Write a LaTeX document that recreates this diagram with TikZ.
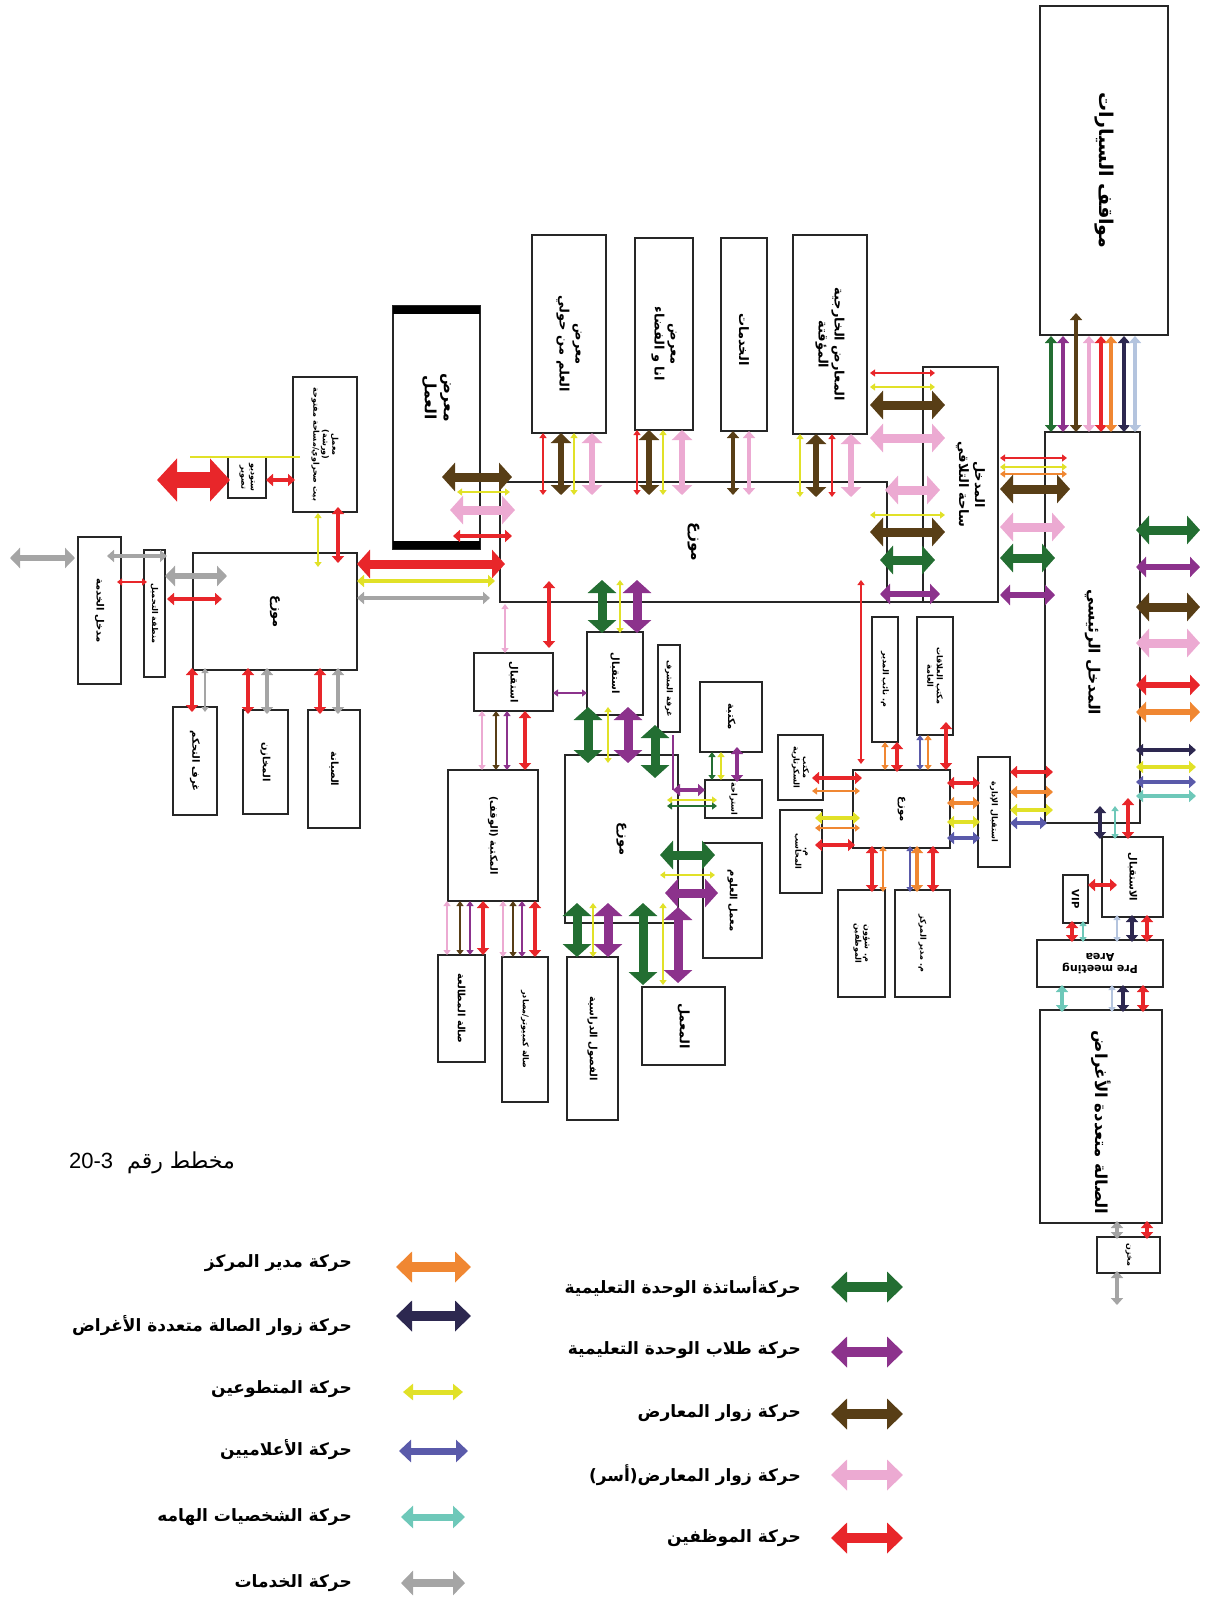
\documentclass[tikz,border=0pt]{standalone}
\usepackage{fontspec}
\usetikzlibrary{arrows.meta}
\setmainfont{DejaVu Sans}
\newfontfamily\arf[Script=Arabic]{DejaVu Sans}
\newfontfamily\latf{Liberation Sans}
\TeXXeTstate=1
\newcommand\AR[1]{\beginR #1\endR}
\definecolor{cGreen}{RGB}{35,110,50}
\definecolor{cPurple}{RGB}{140,50,140}
\definecolor{cBrown}{RGB}{88,62,22}
\definecolor{cPink}{RGB}{236,170,210}
\definecolor{cRed}{RGB}{232,38,42}
\definecolor{cOrange}{RGB}{240,135,50}
\definecolor{cNavy}{RGB}{45,40,80}
\definecolor{cYellow}{RGB}{225,225,40}
\definecolor{cBlue}{RGB}{90,90,170}
\definecolor{cTeal}{RGB}{110,200,185}
\definecolor{cGrey}{RGB}{165,165,165}
\definecolor{cLBlue}{RGB}{180,196,222}
\newcommand\bx[5]{\node[bx, minimum width={(#4)-(#2)}, minimum height={(#5)-(#3)}] (#1) at (#2,#3) {};}
\newcommand\va[4]{\draw[#1] (#2,#3) -- (#2,#4);}
\newcommand\ha[4]{\draw[#1] (#3,#2) -- (#4,#2);}
\begin{document}
\begin{tikzpicture}[x=1pt, y=-1pt,
  bx/.style={draw=black!85, line width=2.6pt, inner sep=0, outer sep=0, anchor=north west},
  lb/.style={rotate=-90, align=center, inner sep=0},
  fL/.style={font=\arf\bfseries\fontsize{19}{22}\selectfont},
  fH/.style={font=\arf\bfseries\fontsize{16.5}{19}\selectfont},
  fM/.style={font=\arf\bfseries\fontsize{15.5}{19}\selectfont},
  fS/.style={font=\arf\bfseries\fontsize{13}{16}\selectfont},
  fT/.style={font=\arf\bfseries\fontsize{10}{12}\selectfont},
  fU/.style={font=\arf\bfseries\fontsize{8}{9.5}\selectfont},
  aH/.style={line width=16pt, arrows={Triangle[width=42pt,length=20pt]-Triangle[width=42pt,length=20pt]}},
  aA/.style={line width=9pt, arrows={Triangle[width=28pt,length=13pt]-Triangle[width=28pt,length=13pt]}},
  aB/.style={line width=6pt, arrows={Triangle[width=20pt,length=10pt]-Triangle[width=20pt,length=10pt]}},
  aC/.style={line width=3.5pt, arrows={Triangle[width=12pt,length=7pt]-Triangle[width=12pt,length=7pt]}},
  aD/.style={line width=1.8pt, arrows={Triangle[width=7pt,length=5pt]-Triangle[width=7pt,length=5pt]}},
  aL/.style={line width=10pt, arrows={Triangle[width=30pt,length=16pt]-Triangle[width=30pt,length=16pt]}},
  lg/.style={font=\arf\bfseries\fontsize{17}{20}\selectfont, anchor=east, inner sep=0}]
\useasboundingbox (0,0) rectangle (1213,1600);

% ---------- boxes ----------
\bx{carpark}{1040}{6}{1168}{335}
\bx{mainent}{1045}{432}{1140}{823}
\bx{bigdist}{500}{482}{887}{602}
\bx{meet}{923}{367}{998}{602}
\draw[line width=2.6pt, black!85] (887,602) -- (923,602);
\bx{workex}{393}{306}{480}{549}
\draw[line width=8pt] (393,310) -- (480,310);
\draw[line width=8pt] (393,545) -- (480,545);
\bx{boxa}{532}{235}{606}{433}
\bx{boxb}{635}{238}{693}{430}
\bx{boxc}{721}{238}{767}{431}
\bx{boxd}{793}{235}{867}{434}
\bx{workshop}{293}{377}{357}{512}
\bx{studio}{228}{457}{266}{498}
\bx{leftdist}{193}{553}{357}{670}
\bx{service}{78}{537}{121}{684}
\bx{loading}{144}{550}{165}{677}
\bx{ctrl}{173}{707}{217}{815}
\bx{store}{243}{710}{288}{814}
\bx{maint}{308}{710}{360}{828}
\bx{librec}{474}{653}{553}{711}
\bx{library}{448}{770}{538}{901}
\bx{reading}{438}{955}{485}{1062}
\bx{computer}{502}{957}{548}{1102}
\bx{edurec}{587}{632}{643}{715}
\bx{superv}{658}{645}{680}{732}
\bx{smalllib}{700}{682}{762}{752}
\bx{rest}{705}{780}{762}{818}
\bx{labb}{703}{843}{762}{958}
\bx{classes}{567}{957}{618}{1120}
\bx{labc}{642}{987}{725}{1065}
\bx{edudist}{565}{755}{678}{923}
\bx{admdist}{853}{770}{950}{848}
\bx{secr}{778}{735}{823}{800}
\bx{acct}{780}{810}{822}{893}
\bx{deputy}{872}{617}{898}{742}
\bx{pr}{917}{617}{953}{735}
\bx{hr}{838}{890}{885}{997}
\bx{director}{895}{890}{950}{997}
\bx{admrec}{978}{757}{1010}{867}
\bx{viprec}{1102}{837}{1163}{917}
\bx{vip}{1063}{875}{1088}{923}
\bx{premeet}{1037}{940}{1163}{987}
\bx{hall}{1040}{1010}{1162}{1223}
\bx{smallst}{1097}{1237}{1160}{1273}

% ---------- labels ----------
\node[lb,fL] (carpark-t) at (carpark.center) {\AR{مواقف السيارات}};
\node[lb,fM] (mainent-t) at ([yshift=-25pt]mainent.center) {\AR{المدخل الرئيسي}};
\node[lb,fS] (meet-t) at ([xshift=10pt]meet.center) {\AR{المدخل}\\\AR{ساحة التلاقي}};
\node[lb,fM] (bigdist-t) at (bigdist.center) {\AR{موزع}};
\node[lb,fM] (workex-t) at ([yshift=30pt]workex.center) {\AR{معرض}\\\AR{العمل}};
\node[lb,fS] (boxa-t) at ([yshift=-10pt]boxa.center) {\AR{معرض}\\\AR{العلم من حولي}};
\node[lb,fS] (boxb-t) at ([yshift=-10pt]boxb.center) {\AR{معرض}\\\AR{انا و الفضاء}};
\node[lb,fS] (boxc-t) at ([yshift=-5pt]boxc.center) {\AR{الخدمات}};
\node[lb,fS] (boxd-t) at ([yshift=-10pt]boxd.center) {\AR{المعارض الخارجية}\\\AR{المؤقتة}};
\node[lb,fU] (workshop-t) at (workshop.center) {\AR{معمل}\\\AR{(ورشة)}\\\AR{بيت صحراوي/مساحة مفتوحة}};
\node[lb,fU] (studio-t) at (studio.center) {\AR{ستوديو}\\\AR{تصوير}};
\node[lb,fS] (leftdist-t) at (leftdist.center) {\AR{موزع}};
\node[lb,fT] (service-t) at (service.center) {\AR{مدخل الخدمة}};
\node[lb,fU] (loading-t) at (loading.center) {\AR{منطقة التحميل}};
\node[lb,fT] (ctrl-t) at (ctrl.center) {\AR{غرف التحكم}};
\node[lb,fT] (store-t) at (store.center) {\AR{المخازن}};
\node[lb,fT] (maint-t) at (maint.center) {\AR{الصيانة}};
\node[lb,fT] (librec-t) at (librec.center) {\AR{استقبال}};
\node[lb,fT] (library-t) at (library.center) {\AR{المكتبة (الوقف)}};
\node[lb,fT] (reading-t) at (reading.center) {\AR{صالة المطالعة}};
\node[lb,fU] (computer-t) at (computer.center) {\AR{صالة كمبيوتر/مصادر}};
\node[lb,fT] (edurec-t) at (edurec.center) {\AR{استقبال}};
\node[lb,fU] (superv-t) at (superv.center) {\AR{غرفة المشرف}};
\node[lb,fT] (smalllib-t) at (smalllib.center) {\AR{مكتبة}};
\node[lb,fU] (rest-t) at (rest.center) {\AR{استراحة}};
\node[lb,fT] (labb-t) at (labb.center) {\AR{معمل العلوم}};
\node[lb,fT] (classes-t) at (classes.center) {\AR{الفصول الدراسية}};
\node[lb,fS] (labc-t) at (labc.center) {\AR{المعمل}};
\node[lb,fS] (edudist-t) at (edudist.center) {\AR{موزع}};
\node[lb,fT] (admdist-t) at (admdist.center) {\AR{موزع}};
\node[lb,fU] (secr-t) at (secr.center) {\AR{مكتب}\\\AR{السكرتارية}};
\node[lb,fU] (acct-t) at (acct.center) {\AR{م.}\\\AR{المحاسب}};
\node[lb,fU] (deputy-t) at (deputy.center) {\AR{م. نائب المدير}};
\node[lb,fU] (pr-t) at (pr.center) {\AR{مكتب العلاقات}\\\AR{العامة}};
\node[lb,fU] (hr-t) at (hr.center) {\AR{م. شؤون}\\\AR{الموظفين}};
\node[lb,fU] (director-t) at (director.center) {\AR{م. مدير المركز}};
\node[lb,fU] (admrec-t) at (admrec.center) {\AR{استقبال الإدارة}};
\node[lb,fT] (viprec-t) at (viprec.center) {\AR{الاستقبال}};
\node[rotate=-90, inner sep=0, font=\bfseries\fontsize{10}{11}\selectfont] (vip-t) at (vip.center) {VIP};
\node[rotate=180, align=center, inner sep=0, font=\bfseries\fontsize{11}{12}\selectfont] (premeet-t) at (premeet.center) {Pre meeting\\Area};
\node[lb,fH] (hall-t) at ([yshift=-6pt]hall.center) {\AR{الصالة متعددة الأغراض}};
\node[lb,fU] (smallst-t) at (smallst.center) {\AR{مخزن}};

% ---------- arrows ----------
% car park <-> main entrance
\va{cGreen,aC}{1051}{336}{432}
\va{cPurple,aC}{1063}{336}{432}
\va{cBrown,aC}{1076}{313}{432}
\va{cPink,aC}{1089}{336}{432}
\va{cRed,aC}{1101}{336}{432}
\va{cOrange,aC}{1111}{336}{432}
\va{cNavy,aC}{1124}{336}{432}
\va{cLBlue,aC}{1135}{336}{432}
% main entrance outside
\ha{cGreen,aA}{530}{1136}{1200}
\ha{cPurple,aB}{567}{1136}{1200}
\ha{cBrown,aA}{607}{1136}{1200}
\ha{cPink,aA}{643}{1136}{1200}
\ha{cRed,aB}{685}{1136}{1200}
\ha{cOrange,aB}{712}{1136}{1200}
\ha{cNavy,aC}{750}{1136}{1196}
\ha{cYellow,aC}{767}{1136}{1196}
\ha{cBlue,aC}{782}{1136}{1196}
\ha{cTeal,aC}{796}{1136}{1196}
% main entrance <-> meeting
\ha{cRed,aD}{458}{1000}{1067}
\ha{cYellow,aD}{467}{1000}{1067}
\ha{cOrange,aD}{474}{1000}{1067}
\ha{cBrown,aA}{489}{1000}{1070}
\ha{cPink,aA}{527}{1000}{1065}
\ha{cGreen,aA}{558}{1000}{1055}
\ha{cPurple,aB}{595}{1000}{1055}
% meeting <-> exhibitions / distributor
\ha{cRed,aD}{373}{870}{935}
\ha{cYellow,aD}{387}{870}{935}
\ha{cBrown,aA}{405}{870}{945}
\ha{cPink,aA}{438}{870}{945}
\ha{cPink,aA}{490}{885}{940}
\ha{cYellow,aD}{515}{870}{945}
\ha{cBrown,aA}{532}{870}{945}
\ha{cGreen,aA}{560}{880}{935}
\ha{cPurple,aB}{594}{880}{940}
% exhibitions <-> distributor
\va{cRed,aD}{543}{433}{495}
\va{cBrown,aB}{561}{433}{495}
\va{cYellow,aD}{574}{433}{495}
\va{cPink,aB}{592}{433}{495}
\va{cRed,aD}{637}{430}{495}
\va{cBrown,aB}{649}{430}{495}
\va{cYellow,aD}{663}{430}{495}
\va{cPink,aB}{682}{430}{495}
\va{cBrown,aC}{733}{431}{495}
\va{cPink,aC}{749}{431}{495}
\va{cYellow,aD}{800}{434}{497}
\va{cBrown,aB}{816}{434}{497}
\va{cRed,aD}{832}{434}{497}
\va{cPink,aB}{851}{434}{497}
% work exhibition <-> distributor
\ha{cBrown,aA}{477}{442}{512}
\ha{cYellow,aD}{492}{457}{510}
\ha{cPink,aA}{510}{450}{515}
\ha{cRed,aC}{536}{453}{512}
% left distributor <-> big distributor
\ha{cRed,aA}{564}{357}{505}
\ha{cYellow,aC}{581}{357}{495}
\ha{cGrey,aC}{598}{357}{490}
% workshop / studio
\va{cYellow,aD}{318}{513}{567}
\va{cRed,aC}{338}{507}{563}
\ha{cRed,aC}{480}{266}{295}
\draw[cYellow, line width=1.8pt] (190,457) -- (300,457);
\ha{cRed,aH}{480}{157}{230}
% service side
\ha{cGrey,aB}{558}{10}{75}
\ha{cGrey,aC}{556}{107}{167}
\ha{cGrey,aB}{576}{165}{227}
\ha{cRed,aD}{582}{117}{147}
\ha{cRed,aC}{599}{167}{222}
% left distributor <-> bottom boxes
\va{cRed,aC}{192}{668}{712}
\va{cGrey,aD}{205}{668}{712}
\va{cRed,aC}{248}{668}{714}
\va{cGrey,aC}{267}{668}{714}
\va{cRed,aC}{320}{668}{714}
\va{cGrey,aC}{338}{668}{714}
% library wing
\va{cPink,aD}{505}{604}{653}
\va{cRed,aC}{549}{581}{648}
\ha{cPurple,aD}{693}{553}{587}
\va{cPink,aD}{482}{711}{770}
\va{cBrown,aD}{496}{711}{770}
\va{cPurple,aD}{507}{711}{770}
\va{cRed,aC}{525}{711}{770}
\va{cPink,aD}{447}{901}{955}
\va{cBrown,aD}{460}{901}{955}
\va{cPurple,aD}{470}{901}{955}
\va{cRed,aC}{483}{901}{955}
\va{cPink,aD}{503}{901}{957}
\va{cBrown,aD}{513}{901}{957}
\va{cPurple,aD}{522}{901}{957}
\va{cRed,aC}{535}{901}{957}
% education wing
\va{cGreen,aA}{602}{580}{633}
\va{cYellow,aD}{620}{580}{633}
\va{cPurple,aA}{637}{580}{633}
\va{cGreen,aA}{588}{707}{763}
\va{cYellow,aD}{608}{707}{763}
\va{cPurple,aA}{628}{707}{763}
\va{cGreen,aA}{655}{725}{778}
\draw[cPurple, line width=1.8pt] (673,735) -- (673,790);
\ha{cPurple,aC}{790}{673}{705}
\va{cPurple,aC}{737}{747}{782}
\va{cGreen,aD}{712}{752}{780}
\va{cYellow,aD}{721}{752}{780}
\ha{cYellow,aD}{800}{667}{717}
\ha{cGreen,aD}{806}{667}{717}
\ha{cGreen,aA}{855}{660}{715}
\ha{cYellow,aD}{875}{660}{715}
\ha{cPurple,aA}{893}{665}{718}
\va{cGreen,aA}{577}{903}{957}
\va{cYellow,aD}{593}{903}{957}
\va{cPurple,aA}{608}{903}{957}
\va{cGreen,aA}{643}{903}{985}
\va{cYellow,aD}{663}{903}{985}
\va{cPurple,aA}{678}{907}{983}
% administration
\va{cRed,aD}{861}{580}{764}
\va{cOrange,aD}{885}{742}{770}
\va{cRed,aC}{897}{742}{772}
\va{cBlue,aD}{920}{735}{770}
\va{cOrange,aD}{928}{735}{770}
\va{cRed,aC}{946}{722}{770}
\ha{cRed,aC}{778}{812}{862}
\ha{cOrange,aD}{791}{812}{860}
\ha{cYellow,aC}{818}{815}{860}
\ha{cOrange,aD}{828}{815}{860}
\ha{cRed,aC}{845}{815}{855}
\va{cRed,aC}{872}{846}{892}
\va{cOrange,aD}{883}{846}{892}
\va{cBlue,aD}{910}{846}{892}
\va{cOrange,aC}{917}{846}{892}
\va{cRed,aC}{933}{846}{892}
\ha{cRed,aC}{783}{947}{980}
\ha{cOrange,aC}{803}{947}{980}
\ha{cYellow,aC}{822}{947}{980}
\ha{cBlue,aC}{838}{947}{980}
\ha{cRed,aC}{772}{1010}{1053}
\ha{cOrange,aC}{792}{1010}{1053}
\ha{cYellow,aC}{810}{1010}{1053}
\ha{cBlue,aC}{823}{1010}{1047}
% VIP / hall column
\va{cNavy,aC}{1100}{806}{839}
\va{cTeal,aD}{1115}{806}{839}
\va{cRed,aC}{1128}{798}{839}
\ha{cRed,aC}{885}{1088}{1117}
\va{cRed,aC}{1072}{921}{942}
\va{cTeal,aD}{1083}{921}{942}
\va{cLBlue,aD}{1117}{915}{942}
\va{cNavy,aC}{1132}{915}{942}
\va{cRed,aC}{1147}{915}{942}
\va{cTeal,aC}{1062}{985}{1012}
\va{cLBlue,aD}{1112}{985}{1012}
\va{cNavy,aC}{1123}{985}{1012}
\va{cRed,aC}{1143}{985}{1012}
\va{cGrey,aC}{1117}{1221}{1239}
\va{cRed,aC}{1147}{1221}{1239}
\va{cGrey,aC}{1117}{1271}{1305}

% ---------- caption ----------
\node[anchor=east, inner sep=0, font=\arf\fontsize{22}{25}\selectfont] (caption) at (235,1163) {\beginR مخطط رقم\ \ \beginL{\latf 20-3}\endL\endR};

% ---------- legend ----------
\ha{cGreen,aL}{1287}{831}{903}
\ha{cPurple,aL}{1352}{831}{903}
\ha{cBrown,aL}{1414}{831}{903}
\ha{cPink,aL}{1475}{831}{903}
\ha{cRed,aL}{1538}{831}{903}
\node[lg] (lg1) at (801,1287) {\AR{حركةأساتذة الوحدة التعليمية}};
\node[lg] (lg2) at (801,1350) {\AR{حركة طلاب الوحدة التعليمية}};
\node[lg] (lg3) at (801,1413) {\AR{حركة زوار المعارض}};
\node[lg] (lg4) at (801,1475) {\AR{حركة زوار المعارض(أسر)}};
\node[lg] (lg5) at (801,1538) {\AR{حركة الموظفين}};
\ha{cOrange,aL}{1267}{396}{471}
\ha{cNavy,aL}{1316}{396}{471}
\draw[cYellow, line width=5pt, arrows={Triangle[width=16pt,length=10pt]-Triangle[width=16pt,length=10pt]}] (403,1392) -- (463,1392);
\draw[cBlue, line width=7pt, arrows={Triangle[width=22pt,length=12pt]-Triangle[width=22pt,length=12pt]}] (399,1451) -- (468,1451);
\draw[cTeal, line width=7pt, arrows={Triangle[width=22pt,length=12pt]-Triangle[width=22pt,length=12pt]}] (401,1517) -- (465,1517);
\draw[cGrey, line width=8pt, arrows={Triangle[width=24pt,length=12pt]-Triangle[width=24pt,length=12pt]}] (401,1583) -- (465,1583);
\node[lg] (lg6) at (352,1263) {\AR{حركة مدير المركز}};
\node[lg] (lg7) at (352,1326) {\AR{حركة زوار الصالة متعددة الأغراض}};
\node[lg] (lg8) at (352,1389) {\AR{حركة المتطوعين}};
\node[lg] (lg9) at (352,1450) {\AR{حركة الأعلاميين}};
\node[lg] (lg10) at (352,1517) {\AR{حركة الشخصيات الهامه}};
\node[lg] (lg11) at (352,1583) {\AR{حركة الخدمات}};
\end{tikzpicture}
\end{document}
